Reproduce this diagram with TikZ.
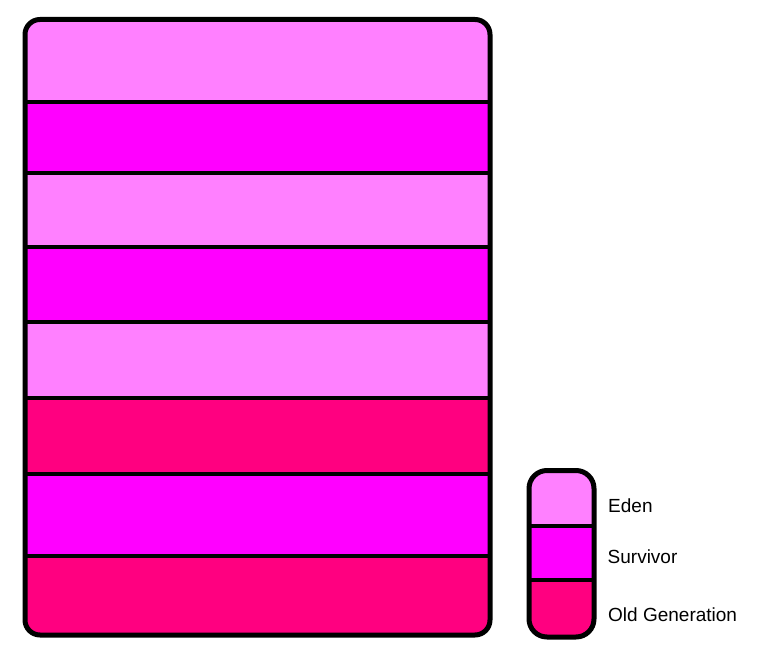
\documentclass[tikz,border=0pt]{standalone}
\usepackage{fontspec}
\setmainfont{Liberation Sans}
\definecolor{edenc}{HTML}{FF80FF}
\definecolor{survc}{HTML}{FF00FF}
\definecolor{oldc}{HTML}{FF0080}
\begin{document}
\begin{tikzpicture}[x=1pt,y=-1pt,
  outline/.style={draw=black,line width=5pt},
  divider/.style={draw=black,line width=4pt},
  legendtext/.style={anchor=base west,inner sep=0pt,font=\fontsize{19}{22}\selectfont}]
\useasboundingbox (0,0) rectangle (775,661);
\fill[white] (0,0) rectangle (775,661);
% main column
\begin{scope}
\clip[rounded corners=15pt] (25,19.5) rectangle (490,635);
\fill[edenc] (25,19.5) rectangle (490,102);
\fill[survc] (25,102) rectangle (490,173);
\fill[edenc] (25,173) rectangle (490,247);
\fill[survc] (25,247) rectangle (490,322);
\fill[edenc] (25,322) rectangle (490,398);
\fill[oldc] (25,398) rectangle (490,474);
\fill[survc] (25,474) rectangle (490,556);
\fill[oldc] (25,556) rectangle (490,635);
\foreach \yy in {102,173,247,322,398,474,556}
  \draw[divider] (25,\yy) -- (490,\yy);
\end{scope}
\draw[outline,rounded corners=15pt] (25,19.5) rectangle (490,635);
% legend
\begin{scope}
\clip[rounded corners=18pt] (529,470.5) rectangle (594,637);
\fill[edenc] (529,470.5) rectangle (594,526);
\fill[survc] (529,526) rectangle (594,580);
\fill[oldc] (529,580) rectangle (594,637);
\draw[divider] (529,526) -- (594,526);
\draw[divider] (529,580) -- (594,580);
\end{scope}
\draw[outline,rounded corners=18pt] (529,470.5) rectangle (594,637);
\node[legendtext] (eden) at (608,512) {Eden};
\node[legendtext] (surv) at (607.5,563) {Survivor};
\node[legendtext] (old) at (608,621) {Old Generation};
\end{tikzpicture}
\end{document}
